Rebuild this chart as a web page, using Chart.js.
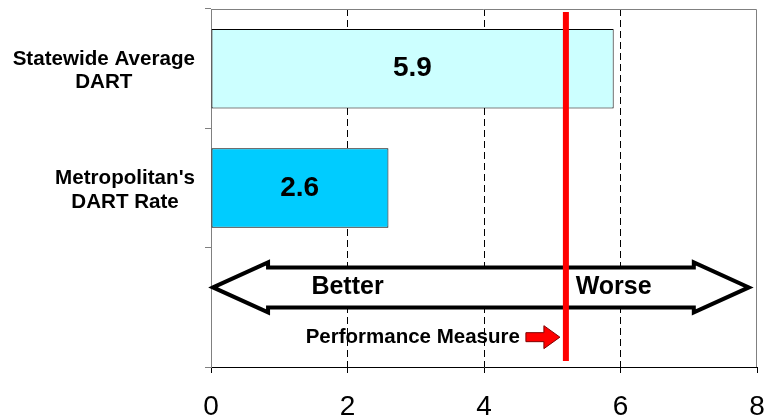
<!DOCTYPE html>
<html>
<head>
<meta charset="utf-8">
<script src="https://cdn.jsdelivr.net/npm/chart.js@4/dist/chart.umd.min.js"></script>
<style>
  html, body { margin: 0; padding: 0; background: #fff; }
</style>
</head>
<body>
<canvas id="dartChart" width="769" height="419"></canvas>
<script>
/* global Chart */

var categories = [["Statewide Average", "DART"], ["Metropolitan's", "DART Rate"], ""];
var dartRates = [5.9, 2.6, null];
var barColors = ["#CCFFFF", "#00CCFF", "#FFFFFF"];
var xTicks = [0, 2, 4, 6, 8];
var performanceMeasure = 5.2;
var arrowLabels = ["Better", "Worse"];
var arrowLabelAt = [2, 5.9];
var arrowRange = [0.03, 7.88];

var FONT = "'Liberation Sans', Arial, sans-serif";

// everything that is not a plain bar: labels, the big arrow, the red measure line
var overlay = {
    id: "overlay",
    afterDatasetsDraw: function(chart) {
        var ctx = chart.ctx;
        var area = chart.chartArea;
        var x = chart.scales.x;
        var y = chart.scales.y;
        var band = y.getPixelForValue(1) - y.getPixelForValue(0);

        ctx.save();

        // top / right frame of the plot
        ctx.strokeStyle = "#808080";
        ctx.lineWidth = 1;
        ctx.beginPath();
        ctx.moveTo(area.left, area.top + 0.5);
        ctx.lineTo(area.right - 0.5, area.top + 0.5);
        ctx.lineTo(area.right - 0.5, area.bottom);
        ctx.stroke();

        // values inside bars
        ctx.fillStyle = "#000";
        ctx.font = "bold 28px " + FONT;
        ctx.textAlign = "center";
        ctx.textBaseline = "middle";
        for (var i = 0; i < dartRates.length; i++) {
            if (dartRates[i] === null) continue;
            ctx.fillText(dartRates[i].toFixed(1), x.getPixelForValue(dartRates[i] / 2), y.getPixelForValue(i));
        }

        // category labels: block right aligned, lines centred in the block
        ctx.font = "bold 20.6px " + FONT;
        ctx.textBaseline = "alphabetic";
        var right = area.left - 16;
        categories.forEach(function(lines, i) {
            if (!Array.isArray(lines)) return;
            var w = 0;
            lines.forEach(function(s) { w = Math.max(w, ctx.measureText(s).width); });
            var cx = right - w / 2;
            var cy = y.getPixelForValue(i);
            ctx.fillText(lines[0], cx, cy - 4);
            ctx.fillText(lines[1], cx, cy + 19.5);
        });

        // double headed arrow
        var ay = y.getPixelForValue(2) - band * 0.167;
        var x0 = x.getPixelForValue(arrowRange[0]);
        var x1 = x.getPixelForValue(arrowRange[1]);
        var head = 55, hh = 25, sh = 20;
        ctx.beginPath();
        ctx.moveTo(x0, ay);
        ctx.lineTo(x0 + head, ay - hh);
        ctx.lineTo(x0 + head, ay - sh);
        ctx.lineTo(x1 - head, ay - sh);
        ctx.lineTo(x1 - head, ay - hh);
        ctx.lineTo(x1, ay);
        ctx.lineTo(x1 - head, ay + hh);
        ctx.lineTo(x1 - head, ay + sh);
        ctx.lineTo(x0 + head, ay + sh);
        ctx.lineTo(x0 + head, ay + hh);
        ctx.closePath();
        ctx.fillStyle = "#fff";
        ctx.fill();
        ctx.lineWidth = 4;
        ctx.lineJoin = "miter";
        ctx.miterLimit = 10;
        ctx.strokeStyle = "#000";
        ctx.stroke();

        ctx.fillStyle = "#000";
        ctx.font = "bold 25px " + FONT;
        ctx.textAlign = "center";
        ctx.textBaseline = "middle";
        for (var j = 0; j < arrowLabels.length; j++) {
            ctx.fillText(arrowLabels[j], x.getPixelForValue(arrowLabelAt[j]), ay);
        }

        // performance measure line
        var px = x.getPixelForValue(performanceMeasure);
        ctx.strokeStyle = "#FF0000";
        ctx.lineWidth = 6;
        ctx.beginPath();
        ctx.moveTo(px, area.top + 3);
        ctx.lineTo(px, area.bottom - 6);
        ctx.stroke();

        // "Performance Measure" + small red arrow
        var ly = y.getPixelForValue(2) + band * 0.25;
        ctx.font = "bold 20.5px " + FONT;
        ctx.textAlign = "right";
        ctx.fillText("Performance Measure", px - 46, ly);

        var tip = px - 6, base = px - 22, tail = px - 40;
        ctx.beginPath();
        ctx.moveTo(tail, ly - 4.5);
        ctx.lineTo(base, ly - 4.5);
        ctx.lineTo(base, ly - 11.5);
        ctx.lineTo(tip, ly);
        ctx.lineTo(base, ly + 11.5);
        ctx.lineTo(base, ly + 4.5);
        ctx.lineTo(tail, ly + 4.5);
        ctx.closePath();
        ctx.fillStyle = "#FF0000";
        ctx.fill();
        ctx.lineWidth = 1;
        ctx.strokeStyle = "#800000";
        ctx.stroke();

        ctx.restore();
    }
};

var chartCanvas = document.getElementById("dartChart");

var dartChart = new Chart(chartCanvas, {
    type: "bar",
    data: {
        labels: categories,
        datasets: [{
            data: dartRates,
            backgroundColor: barColors,
            borderColor: "#000",
            borderWidth: 1,
            borderSkipped: false,
            barPercentage: 0.666,
            categoryPercentage: 1
        }]
    },
    options: {
        indexAxis: "y",
        responsive: false,
        animation: false,
        devicePixelRatio: 1,
        layout: { padding: { left: 205, top: 9, right: 12, bottom: 0 } },
        plugins: {
            legend: { display: false },
            tooltip: { enabled: false }
        },
        scales: {
            x: {
                min: 0,
                max: 8,
                afterBuildTicks: function(scale) {
                    scale.ticks = xTicks.map(function(v) { return { value: v }; });
                },
                afterFit: function(scale) {
                    scale.height = 52;
                    scale.paddingLeft = 0;
                    scale.paddingRight = 0;
                },
                ticks: {
                    color: "#000",
                    padding: 17,
                    font: { size: 28, family: FONT }
                },
                grid: {
                    color: function(c) {
                        if (c.tick && (c.tick.value === 0 || c.tick.value === 8)) return "rgba(0,0,0,0)";
                        return "#000";
                    },
                    tickColor: "#000",
                    tickLength: 6,
                    tickBorderDash: []
                },
                border: { color: "#000", width: 1, dash: [7, 4] }
            },
            y: {
                ticks: { display: false },
                afterFit: function(scale) { scale.width = 6; },
                grid: {
                    offset: true,
                    drawOnChartArea: false,
                    color: "#808080",
                    tickColor: function(c) { return c.index === 3 ? "#000" : "#808080"; },
                    tickLength: 6
                },
                border: { color: "#808080", width: 1 }
            }
        }
    },
    plugins: [overlay]
});
</script>
</body>
</html>
